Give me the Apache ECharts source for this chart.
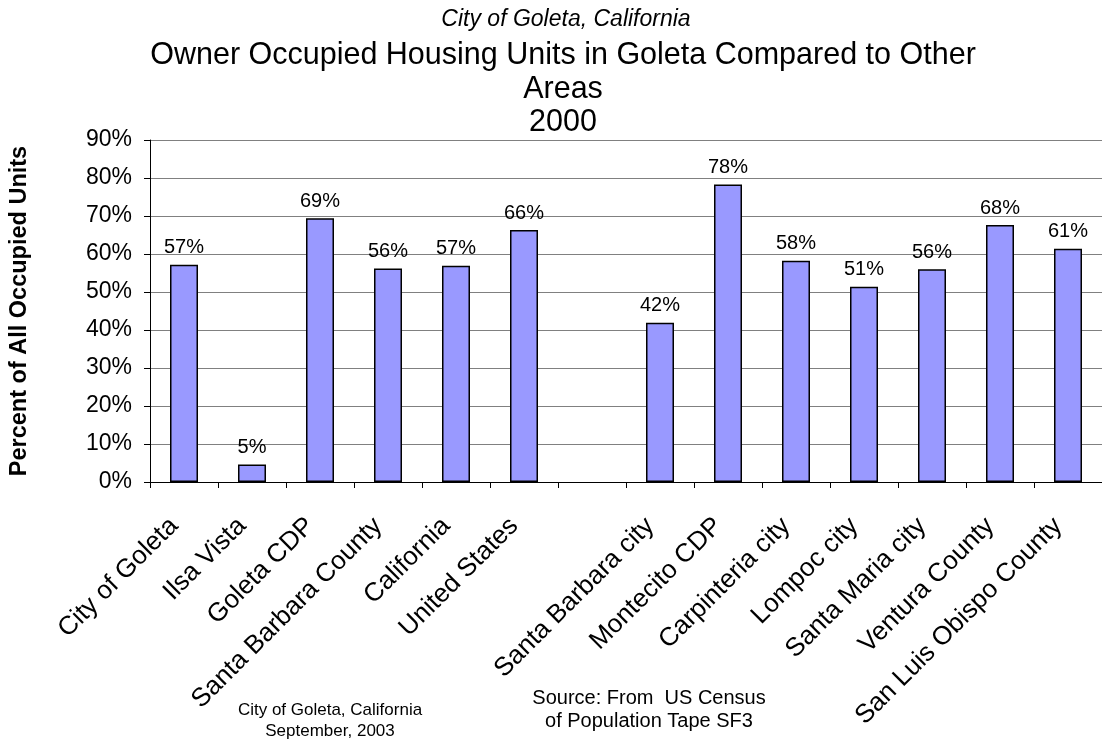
<!DOCTYPE html>
<html>
<head>
<meta charset="utf-8">
<title>Owner Occupied Housing Units</title>
<script src="https://cdn.jsdelivr.net/npm/echarts@6/dist/echarts.min.js"></script>
<style>
    html, body { margin: 0; padding: 0; background: #fff; }
    #main { width: 1102px; height: 744px; }
</style>
</head>
<body>
<div id="main"></div>
<script>
// 地区 (第7个为空位, 图中左右两组之间的间隔)
var categories = ['City of Goleta', 'Ilsa Vista', 'Goleta CDP', 'Santa Barbara County', 'California', 'United States', '',
    'Santa Barbara city', 'Montecito CDP', 'Carpinteria city', 'Lompoc city', 'Santa Maria city', 'Ventura County', 'San Luis Obispo County']
// 自有住房占比 %
var ownerPct = [57.2, 4.6, 69.4, 56.2, 56.9, 66.3, null, 41.9, 78.3, 58.2, 51.4, 56.0, 67.6, 61.4]
var yTicks = [0, 90, 10] // min, max, interval

var chart = echarts.init(document.getElementById('main'))
var font = 'Liberation Sans, Arial, sans-serif'

var option = {
    backgroundColor: '#fff',
    textStyle: { fontFamily: font, color: '#000' },
    grid: {
        left: 150,
        top: 140,
        width: 959, // 原图右侧被裁掉一部分
        height: 342,
    },
    xAxis: {
        type: 'category',
        data: categories,
        axisLine: { lineStyle: { color: '#000', width: 1 } },
        axisTick: { show: true, interval: 0, length: 6, lineStyle: { color: '#000' } },
        axisLabel: {
            interval: 0,
            rotate: 45,
            fontSize: 26,
            color: '#000',
            margin: 30,
            padding: [0, 14, 0, 0],
        },
    },
    yAxis: {
        type: 'value',
        min: yTicks[0],
        max: yTicks[1],
        interval: yTicks[2],
        name: 'Percent of All Occupied Units',
        nameLocation: 'middle',
        nameRotate: 90,
        nameGap: 118,
        nameTextStyle: { fontSize: 23.5, fontWeight: 'bold', color: '#000' },
        axisLine: { show: true, lineStyle: { color: '#000', width: 1 } },
        axisTick: { show: true, length: 6, lineStyle: { color: '#000' } },
        axisLabel: { formatter: '{value}%', fontSize: 23, color: '#000', margin: 18 },
        splitLine: { lineStyle: { color: '#808080', width: 1 } },
    },
    series: [
        {
            type: 'bar',
            data: ownerPct,
            barWidth: 28,
            itemStyle: { color: '#9999ff', borderColor: '#000', borderWidth: 1.5 },
            label: {
                show: true,
                position: 'top',
                distance: 7,
                fontSize: 20,
                color: '#000',
                formatter: function (p) {
                    return Math.round(p.value) + '%'
                },
            },
        },
    ],
    // 标题 + 底部说明文字
    graphic: [
        {
            type: 'text',
            x: 566,
            y: 8,
            style: {
                text: 'City of Goleta, California',
                fontSize: 23,
                fontStyle: 'italic',
                align: 'center',
                verticalAlign: 'top',
                fill: '#000',
                fontFamily: font,
            },
        },
        {
            type: 'text',
            x: 563,
            y: 39,
            style: {
                text: 'Owner Occupied Housing Units in Goleta Compared to Other\nAreas\n2000',
                fontSize: 30.5,
                lineHeight: 33.5,
                align: 'center',
                verticalAlign: 'top',
                fill: '#000',
                fontFamily: font,
            },
        },
        {
            type: 'text',
            x: 330,
            y: 700,
            style: {
                text: 'City of Goleta, California\nSeptember, 2003',
                fontSize: 17,
                lineHeight: 21,
                align: 'center',
                fill: '#000',
                fontFamily: font,
            },
        },
        {
            type: 'text',
            x: 649,
            y: 687,
            style: {
                text: 'Source: From  US Census\nof Population Tape SF3',
                fontSize: 20,
                lineHeight: 23,
                align: 'center',
                fill: '#000',
                fontFamily: font,
            },
        },
    ],
}
chart.setOption(option)
window.addEventListener('resize', chart.resize)
</script>
</body>
</html>
